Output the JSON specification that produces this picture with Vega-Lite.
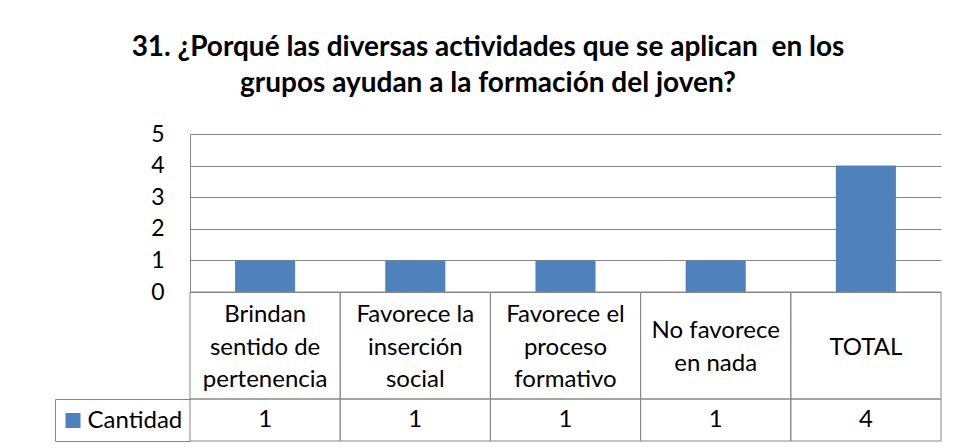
{
  "$schema": "https://vega.github.io/schema/vega-lite/v6.json",
  "datasets": {
    "d": [
      {"cat": "Brindan sentido de pertenencia", "label": "Brindan\nsentido de\npertenencia", "v": 1},
      {"cat": "Favorece la inserción social", "label": "Favorece la\ninserción\nsocial", "v": 1},
      {"cat": "Favorece el proceso formativo", "label": "Favorece el\nproceso\nformativo", "v": 1},
      {"cat": "No favorece en nada", "label": "No favorece\nen nada", "v": 1},
      {"cat": "TOTAL", "label": "TOTAL", "v": 4}
    ]
  },
  "title": {
    "text": ["31. ¿Porqué las diversas actividades que se aplican\u00a0 en los", "grupos ayudan a la formación del joven?"],
    "anchor": "middle",
    "frame": "bounds",
    "font": "Lato",
    "fontSize": 28,
    "fontWeight": "bold",
    "lineHeight": 36,
    "color": "#000000",
    "offset": 25,
    "dx": -10
  },
  "padding": {"left": 54, "top": 34, "right": 18, "bottom": 6},
  "spacing": 0,
  "bounds": "flush",
  "vconcat": [
    {
      "width": 751,
      "height": 158,
      "data": {"name": "d"},
      "mark": {"type": "bar", "color": "#4F81BD", "width": {"band": 0.4}},
      "encoding": {
        "x": {"field": "cat", "type": "nominal", "sort": null, "axis": null, "scale": {"paddingInner": 0, "paddingOuter": 0}},
        "y": {
          "field": "v", "type": "quantitative", "scale": {"domain": [0, 5]},
          "axis": {"values": [0, 1, 2, 3, 4, 5], "title": null, "ticks": false, "domainColor": "#868686", "gridColor": "#868686", "labelFontSize": 23, "labelPadding": 26, "labelColor": "#000000", "labelFont": "Lato"}
        }
      }
    },
    {
      "width": 751,
      "height": 107,
      "data": {"name": "d"},
      "layer": [
        {
          "mark": {"type": "rect", "filled": false, "color": "#878787", "strokeWidth": 1},
          "encoding": {
            "x": {"field": "cat", "type": "nominal", "sort": null, "axis": null, "scale": {"paddingInner": 0, "paddingOuter": 0}},
            "y": {"datum": 0, "type": "quantitative", "scale": {"domain": [0, 1]}, "axis": null},
            "y2": {"datum": 1}
          }
        },
        {
          "transform": [{"filter": "length(split(datum.label, '\\n')) == 3"}],
          "mark": {"type": "text", "lineBreak": "\n", "lineHeight": 32.5, "fontSize": 24, "font": "Lato", "baseline": "middle", "color": "#000000", "dy": -30.5},
          "encoding": {
            "x": {"field": "cat", "type": "nominal", "sort": null, "axis": null},
            "y": {"datum": 0.5, "type": "quantitative", "axis": null},
            "text": {"field": "label"}
          }
        },
        {
          "transform": [{"filter": "length(split(datum.label, '\\n')) == 2"}],
          "mark": {"type": "text", "lineBreak": "\n", "lineHeight": 32.5, "fontSize": 24, "font": "Lato", "baseline": "middle", "color": "#000000", "dy": -14.25},
          "encoding": {
            "x": {"field": "cat", "type": "nominal", "sort": null, "axis": null},
            "y": {"datum": 0.5, "type": "quantitative", "axis": null},
            "text": {"field": "label"}
          }
        },
        {
          "transform": [{"filter": "length(split(datum.label, '\\n')) == 1"}],
          "mark": {"type": "text", "lineBreak": "\n", "lineHeight": 32.5, "fontSize": 24, "font": "Lato", "baseline": "middle", "color": "#000000", "dy": 2},
          "encoding": {
            "x": {"field": "cat", "type": "nominal", "sort": null, "axis": null},
            "y": {"datum": 0.5, "type": "quantitative", "axis": null},
            "text": {"field": "label"}
          }
        }
      ]
    },
    {
      "width": 751,
      "height": 42,
      "data": {"name": "d"},
      "layer": [
        {
          "mark": {"type": "rect", "filled": false, "color": "#878787", "strokeWidth": 1},
          "encoding": {
            "x": {"field": "cat", "type": "nominal", "sort": null, "axis": null, "scale": {"paddingInner": 0, "paddingOuter": 0}},
            "y": {"datum": 0, "type": "quantitative", "scale": {"domain": [0, 1]},
              "axis": {"orient": "left", "offset": 135, "values": [0, 1], "tickSize": -135, "tickColor": "#878787", "domainColor": "#878787", "labels": false, "grid": false, "title": null}},
            "y2": {"datum": 1}
          }
        },
        {
          "mark": {"type": "text", "fontSize": 24, "font": "Lato", "baseline": "middle", "color": "#000000"},
          "encoding": {
            "x": {"field": "cat", "type": "nominal", "sort": null, "axis": null},
            "y": {"datum": 0.5, "type": "quantitative",
              "axis": {"orient": "left", "offset": 110, "values": [0.5], "tickSize": 15, "tickWidth": 15, "tickColor": "#4F81BD", "tickCap": "butt", "domain": false, "labelAlign": "left", "labelBaseline": "middle", "labelPadding": -22, "labelExpr": "'Cantidad'", "labelFontSize": 24, "labelFont": "Lato", "labelColor": "#000000", "grid": false, "title": null}},
            "text": {"field": "v"}
          }
        }
      ],
      "resolve": {"axis": {"y": "independent"}}
    }
  ],
  "config": {"view": {"stroke": null}, "font": "Lato"}
}
